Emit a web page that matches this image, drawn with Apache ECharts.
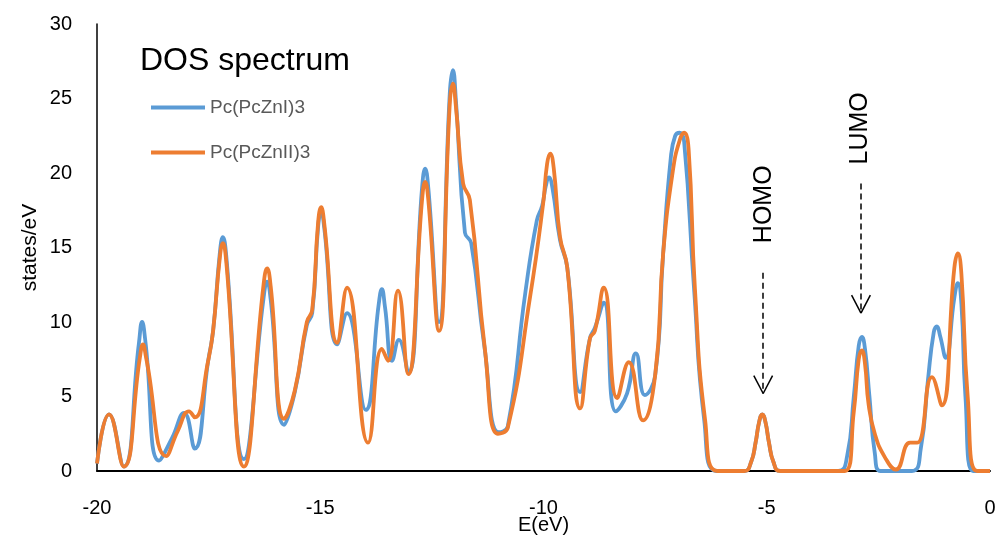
<!DOCTYPE html>
<html>
<head>
<meta charset="utf-8">
<script src="https://cdn.jsdelivr.net/npm/echarts@6/dist/echarts.min.js"></script>
<style>
  html, body { margin: 0; padding: 0; background: #fff; }
  #chart { width: 995px; height: 540px; }
</style>
</head>
<body>
<div id="chart"></div>
<script>
// series names
const seriesNames = ["Pc(PcZnI)3", "Pc(PcZnII)3"];

// Pc(PcZnI)3 : [E (eV), states/eV]
const dosZnI = [
  [-20, 0.5], [-19.73, 3.8], [-19.4, 0.3], [-19.06, 8.6], [-18.99, 10.0], [-18.92, 8.8],
  [-18.61, 0.7], [-18.32, 2.2], [-18.05, 3.9], [-17.81, 1.5], [-17.51, 7.4], [-17.4, 9.4],
  [-17.25, 14.6], [-17.18, 15.7], [-17.11, 14.6], [-16.71, 0.8], [-16.27, 11.6], [-16.19, 12.7],
  [-16.11, 11.5], [-15.81, 3.1], [-15.57, 5.3], [-15.3, 9.8], [-15.18, 10.6], [-15.05, 16.3],
  [-14.98, 17.4], [-14.91, 16.3], [-14.62, 8.5], [-14.4, 10.6], [-13.98, 4.1], [-13.69, 11.2],
  [-13.62, 12.2], [-13.55, 11.0], [-13.39, 7.4], [-13.24, 8.8], [-13.03, 6.6], [-12.72, 19.0],
  [-12.65, 20.3], [-12.58, 19.0], [-12.34, 10.0], [-12.1, 25.3], [-12.03, 26.9], [-11.96, 24.8],
  [-11.76, 16.0], [-11.62, 15.3], [-11.33, 8.5], [-11.0, 2.6], [-10.8, 3.0], [-10.41, 11.9],
  [-10.15, 16.8], [-10.03, 17.8], [-9.95, 19.1], [-9.88, 19.7], [-9.8, 19.0], [-9.63, 15.5],
  [-9.47, 13.7], [-9.18, 5.3], [-8.96, 8.9], [-8.85, 9.6], [-8.65, 11.3], [-8.38, 4.0],
  [-8.13, 5.2], [-7.93, 7.9], [-7.73, 5.1], [-7.5, 6.4], [-7.32, 14.6], [-7.15, 21.0],
  [-7.05, 22.5], [-6.95, 22.7], [-6.85, 22.1], [-6.63, 12.3], [-6.4, 3.4], [-6.13, 0],
  [-5.5, 0], [-5.35, 0.6], [-5.25, 1.9], [-5.17, 3.3], [-5.1, 3.8], [-5.03, 3.3],
  [-4.95, 1.9], [-4.85, 0.6], [-4.7, 0],
  [-3.4, 0], [-3.2, 1.0], [-3.05, 5.0], [-2.94, 8.4], [-2.87, 9.0], [-2.8, 8.2],
  [-2.7, 5.0], [-2.58, 1.2], [-2.45, 0], [-1.75, 0], [-1.55, 1.5], [-1.39, 6.1],
  [-1.26, 9.3], [-1.19, 9.7], [-1.12, 9.1], [-0.99, 7.6], [-0.8, 11.6], [-0.72, 12.6],
  [-0.64, 11.2], [-0.55, 5.0], [-0.38, 0], [0, 0]
];

// Pc(PcZnII)3 : [E (eV), states/eV]
const dosZnII = [
  [-20, 0.5], [-19.73, 3.8], [-19.4, 0.3], [-19.04, 7.6], [-18.97, 8.5], [-18.9, 7.6],
  [-18.45, 1.0], [-18.19, 2.7], [-17.94, 4.0], [-17.81, 3.6], [-17.51, 7.4], [-17.4, 9.4],
  [-17.25, 14.3], [-17.18, 15.3], [-17.11, 14.2], [-16.71, 0.3], [-16.27, 12.5], [-16.19, 13.6],
  [-16.11, 12.4], [-15.81, 3.5], [-15.57, 5.4], [-15.3, 10.0], [-15.18, 10.8], [-15.05, 16.6],
  [-14.98, 17.7], [-14.91, 16.6], [-14.62, 8.6], [-14.4, 12.3], [-13.93, 1.9], [-13.62, 8.2],
  [-13.48, 7.4], [-13.26, 12.1], [-13.03, 6.5], [-12.72, 18.2], [-12.65, 19.4], [-12.58, 18.2],
  [-12.34, 9.4], [-12.1, 24.6], [-12.03, 26.0], [-11.96, 24.4], [-11.8, 19.3], [-11.65, 18.2],
  [-11.31, 8.1], [-11.02, 2.5], [-10.8, 2.9], [-10.3, 11.7], [-10.01, 17.9], [-9.92, 20.6],
  [-9.85, 21.3], [-9.77, 20.3], [-9.63, 15.7], [-9.47, 13.7], [-9.18, 4.2], [-8.96, 8.9],
  [-8.85, 9.4], [-8.65, 12.3], [-8.35, 4.9], [-8.09, 7.3], [-7.77, 3.4], [-7.5, 6.4],
  [-7.32, 14.6], [-7.1, 20.2], [-6.95, 22.2], [-6.85, 22.7], [-6.75, 21.6], [-6.61, 12.3],
  [-6.38, 3.4], [-6.11, 0], [-5.5, 0],
  [-5.35, 0.6], [-5.25, 1.9], [-5.17, 3.3], [-5.1, 3.8], [-5.03, 3.3], [-4.95, 1.9],
  [-4.85, 0.6], [-4.7, 0],
  [-3.25, 0], [-3.05, 4.0], [-2.94, 7.5], [-2.87, 8.1], [-2.8, 7.2], [-2.72, 4.5],
  [-2.58, 2.5], [-2.35, 0.9], [-2.11, 0.1], [-1.79, 1.9], [-1.63, 1.9], [-1.3, 6.3],
  [-1.08, 4.4], [-0.8, 13.6], [-0.72, 14.6], [-0.64, 13.2], [-0.5, 5.0], [-0.29, 0], [0, 0]
];

// annotation arrows: [E, y top, y tip]
const homoArrow = [-5.08, 13.3, 5.2];
const lumoArrow = [-2.89, 19.3, 10.6];

const FONT = "Liberation Sans";

function arrowLines(a) {
  const [x, y0, y1] = a;
  const dx = 0.21, dy = 1.2;
  return [
    [{ coord: [x, y0], lineStyle: { type: [6, 4] } }, { coord: [x, y1] }],
    [{ coord: [x - dx, y1 + dy], lineStyle: { type: "solid" } }, { coord: [x, y1] }],
    [{ coord: [x + dx, y1 + dy], lineStyle: { type: "solid" } }, { coord: [x, y1] }]
  ];
}

const chart = echarts.init(document.getElementById("chart"));
chart.setOption({
  animation: false,
  textStyle: { fontFamily: FONT },
  title: {
    text: "DOS spectrum",
    left: 135,
    top: 40,
    textStyle: { fontSize: 32, fontWeight: "normal", color: "#000", fontFamily: FONT }
  },
  legend: {
    orient: "vertical",
    left: 146,
    top: 93,
    icon: "rect",
    itemWidth: 54,
    itemHeight: 4,
    itemGap: 26,
    textStyle: { fontSize: 19, color: "#595959", fontFamily: FONT },
    data: seriesNames
  },
  grid: { left: 97, right: 5, top: 24, bottom: 69, outerBoundsMode: "none", containLabel: false },
  xAxis: {
    type: "value",
    min: -20,
    max: 0,
    interval: 5,
    name: "E(eV)",
    nameLocation: "middle",
    nameGap: 44,
    nameMoveOverlap: false,
    nameTextStyle: { fontSize: 20, color: "#000" },
    axisLine: { lineStyle: { color: "#000", width: 2 } },
    axisTick: { show: false },
    axisLabel: { fontSize: 20, color: "#000", margin: 27 },
    splitLine: { show: false }
  },
  yAxis: {
    type: "value",
    min: 0,
    max: 30,
    interval: 5,
    name: "states/eV",
    nameLocation: "middle",
    nameGap: 56,
    nameMoveOverlap: false,
    nameTextStyle: { fontSize: 21, color: "#000" },
    axisLine: { show: true, onZero: false, lineStyle: { color: "#000", width: 1.5 } },
    axisTick: { show: false },
    axisLabel: { fontSize: 20, color: "#000", margin: 25 },
    splitLine: { show: false }
  },
  series: [
    {
      name: seriesNames[0],
      type: "line",
      data: dosZnI,
      smooth: 0.5,
      symbol: "none",
      lineStyle: { color: "#5B9BD5", width: 3.8 },
      itemStyle: { color: "#5B9BD5" },
      z: 2
    },
    {
      name: seriesNames[1],
      type: "line",
      data: dosZnII,
      smooth: 0.5,
      symbol: "none",
      lineStyle: { color: "#ED7D31", width: 3.8 },
      itemStyle: { color: "#ED7D31" },
      z: 3,
      markLine: {
        silent: true,
        symbol: "none",
        label: { show: false },
        lineStyle: { color: "#000", width: 1.5 },
        data: arrowLines(homoArrow).concat(arrowLines(lumoArrow))
      },
      markPoint: {
        silent: true,
        symbol: "circle",
        symbolSize: 0,
        label: { show: true, rotate: 90, fontSize: 25, color: "#000", fontFamily: FONT },
        data: [
          { coord: [-5.06, 17.9], label: { formatter: "HOMO" } },
          { coord: [-2.91, 23.0], label: { formatter: "LUMO" } }
        ]
      }
    }
  ]
});
</script>
</body>
</html>
